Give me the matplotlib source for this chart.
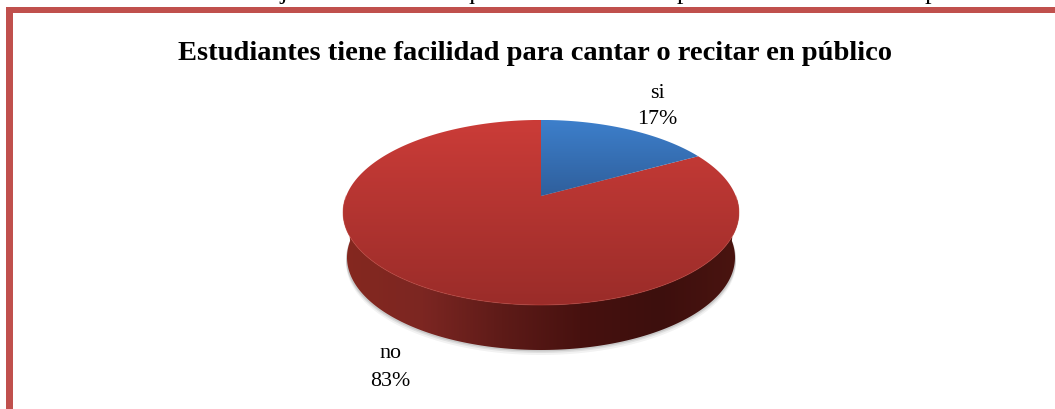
"""Pie chart: estudiantes con facilidad para cantar o recitar en publico."""

import numpy as np
import matplotlib
matplotlib.use("Agg")
import matplotlib.pyplot as plt
from matplotlib.colors import LinearSegmentedColormap
from matplotlib.patches import Polygon, Rectangle

categories = ["si", "no"]
values = [17, 83]
percent_labels = ["17%", "83%"]
chart_title = "Estudiantes tiene facilidad para cantar o recitar en público"
caption = "Gráfico 30 Porcentaje de estudiantes que tienen facilidad para cantar o recitar en público."

W, H = 1055, 409
CX, CY = 541, 196      # wedge apex in pixels
TILT = 0.178           # perspective of the disc
SCALE_X, SCALE_Y = 194.8, 89.6
DEPTH = 45

plt.rcParams["font.family"] = ["Liberation Serif", "DejaVu Serif"]

fig = plt.figure(figsize=(W / 100, H / 100), dpi=100)
ax = fig.add_axes([0, 0, 1, 1])


def project(theta_deg, r=1.0):
    """Unit disc angle to pixel position with the perspective of the 3D pie."""
    t = np.radians(theta_deg)
    x, y = r * np.cos(t), r * np.sin(t)
    d = 1 + TILT * y
    return CX + SCALE_X * x / d, CY - SCALE_Y * y / d


def gradient(clip, colors, vertical=True, extent=(0, W, H, 0)):
    cmap = LinearSegmentedColormap.from_list("g", colors)
    ramp = np.linspace(0, 1, 256)
    data = ramp[:, None] if vertical else ramp[None, :]
    im = ax.imshow(data, cmap=cmap, extent=extent, aspect="auto", zorder=3, interpolation="bilinear")
    im.set_clip_path(clip)


# wedge angles come from pie itself, then get re-projected
wedges, _ = ax.pie(values, startangle=90, counterclock=False)
angles = [(w.theta1, w.theta2) for w in wedges]
for w in wedges:
    w.remove()
ax.set_aspect("auto")
ax.set_xlim(0, W)
ax.set_ylim(H, 0)
ax.axis("off")

# soft shadow under the side wall
full = np.linspace(0, 360, 361)
for grow, alpha in [(5, 0.05), (3, 0.07), (1.5, 0.1)]:
    fx, fy = project(full)
    shadow = Polygon(np.c_[CX + (fx - CX) * 0.985, fy + DEPTH + grow], closed=True,
                     facecolor="black", edgecolor="none", alpha=alpha, zorder=1)
    ax.add_patch(shadow)

# side wall: rim of the disc swept downwards
fx, fy = project(np.linspace(180, 360, 181))
low_x = CX + (fx - CX) * 0.98
side_pts = np.r_[np.c_[fx, fy], np.c_[low_x, fy + DEPTH][::-1]]
side = Polygon(side_pts, closed=True, facecolor="none", edgecolor="none", zorder=2)
ax.add_patch(side)
gradient(side, ["#85281f", "#7c2622", "#5e1b18", "#47110f", "#3d0f0d", "#4a1410"],
         vertical=False, extent=(343, 739, 352, 200))

# top faces, biggest slice first
face_colors = {
    "si": ["#3d7fcb", "#2f5f9c"],
    "no": ["#cb3c38", "#9a2c29"],
}
for name, (a1, a2) in reversed(list(zip(categories, angles))):
    px, py = project(np.linspace(a1, a2, 200))
    poly = Polygon(np.r_[[[CX, CY]], np.c_[px, py]], closed=True,
                   facecolor="none", edgecolor="none", zorder=3)
    ax.add_patch(poly)
    if name == "si":
        gradient(poly, face_colors[name], extent=(343, 739, 196, 120))
    else:
        gradient(poly, face_colors[name], extent=(343, 739, 306, 120))

# light rim on the front of the top face
fx, fy = project(np.linspace(180, 360, 181))
ax.plot(fx, fy, color="#c8473f", lw=0.7, zorder=4, alpha=0.5)

# frame (left and top only, the picture is cut there)
frame_color = "#c0504d"
ax.add_patch(Rectangle((6, 7), 6.5, H - 7, facecolor=frame_color, edgecolor="none", zorder=5))
ax.add_patch(Rectangle((6, 7), W - 6, 5.5, facecolor=frame_color, edgecolor="none", zorder=5))

# texts
ax.text(535, 53, chart_title, ha="center", va="center", fontsize=20.5, fontweight="bold", color="black")
ax.text(68, -0.7, caption, ha="left", va="baseline", fontsize=19, color="black", clip_on=False)
ax.text(657, 94, categories[0], ha="center", va="center", fontsize=15.8)
ax.text(657, 120, percent_labels[0], ha="center", va="center", fontsize=15.8)
ax.text(390, 353, categories[1], ha="center", va="center", fontsize=15.8)
ax.text(390, 381, percent_labels[1], ha="center", va="center", fontsize=15.8)

fig.savefig("out.png", dpi=100)
